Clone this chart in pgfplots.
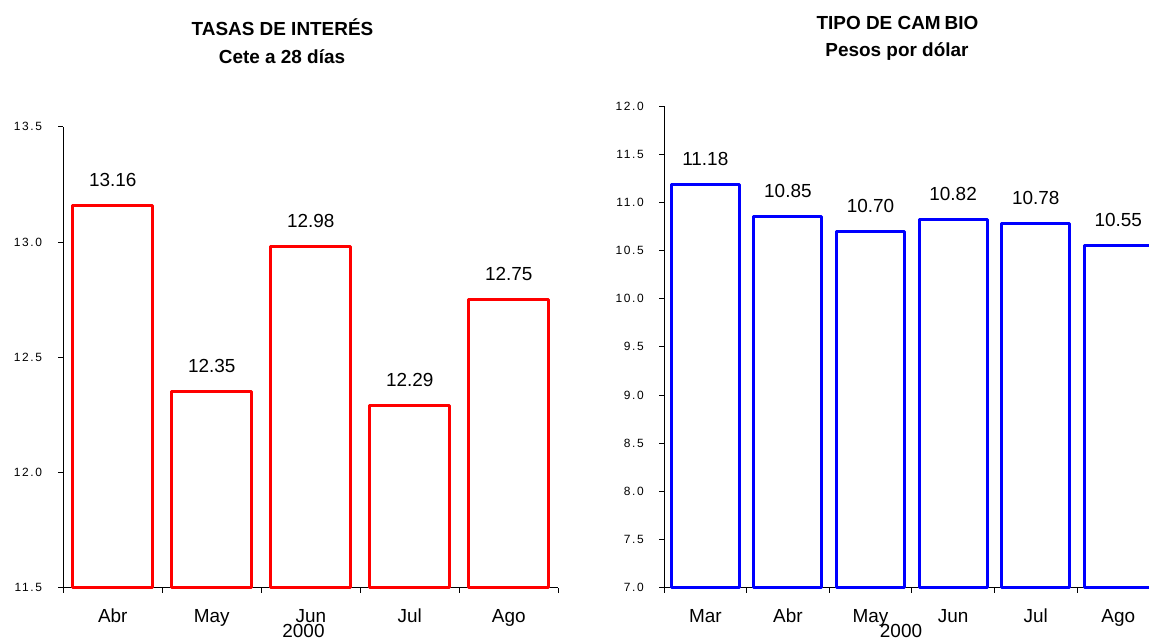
\documentclass[border=0pt]{standalone}
\usepackage{fontspec}
\setmainfont{Liberation Sans}
\newfontfamily\tickfont[LetterSpace=14]{Liberation Sans}
\usepackage{pgfplots}
\usepackage{pgfplotstable}
\pgfplotsset{compat=1.18}

% Cete a 28 dias (%)
\pgfplotstableread{
mes v
Abr 13.16
May 12.35
Jun 12.98
Jul 12.29
Ago 12.75
}\tasas

% Pesos por dolar
\pgfplotstableread{
mes v
Mar 11.18
Abr 10.85
May 10.70
Jun 10.82
Jul 10.78
Ago 10.55
}\cambio

\pgfplotsset{
  panel/.style={
    scale only axis,
    anchor=south west,
    clip=false,
    axis x line=bottom, axis y line=left,
    axis line style={-, line width=0.8bp, black},
    tick align=outside,
    major tick length=5bp,
    tick style={line width=0.8bp, black},
    ymin=0,
    xticklabels={},
    yticklabel style={font=\tickfont\fontsize{12}{12}\selectfont, inner sep=0pt},
    extra x tick style={major tick length=0bp,
      xticklabel style={font=\fontsize{19}{19}\selectfont, anchor=base, inner sep=0pt, yshift=-34.6bp}},
    ybar,
    point meta=explicit,
    nodes near coords={\pgfmathprintnumber[fixed,fixed zerofill,precision=2,assume math mode=true]{\pgfplotspointmeta}},
    every node near coord/.append style={font=\fontsize{19}{19}\selectfont, anchor=base, inner sep=0pt, yshift=19bp},
  },
  barra/.style={draw=#1, fill=none, line width=3bp, line join=round},
}

\begin{document}
\begin{tikzpicture}
\useasboundingbox (0,0) rectangle (1149bp,640bp);

% Tasas de interes
\begin{axis}[panel,
  at={(63.3bp,52.3bp)}, width=495bp, height=461bp,
  xmin=-0.5, xmax=4.5, ymax=2,
  bar width=80bp,
  xtick={-0.5,0.5,...,4.5},
  extra x ticks={0,1,2,3,4},
  extra x tick labels={Abr,May,Jun,Jul,Ago},
  ytick={0,0.5,1,1.5,2},
  yticklabels={11.5,12.0,12.5,13.0,13.5},
  yticklabel style={xshift=-16bp},
]
\addplot[barra=red] table[x expr=\coordindex, y expr=\thisrow{v}-11.5, meta=v] {\tasas};
\end{axis}

% Tipo de cambio
\begin{axis}[panel,
  at={(664bp,52.3bp)}, width=495.6bp, height=481.7bp,
  xmin=-0.5, xmax=5.5, ymax=5,
  bar width=68bp,
  xtick={-0.5,0.5,...,5.5},
  extra x ticks={0,1,2,3,4,5},
  extra x tick labels={Mar,Abr,May,Jun,Jul,Ago},
  ytick={0,0.5,...,5},
  yticklabels={7.0,7.5,8.0,8.5,9.0,9.5,10.0,10.5,11.0,11.5,12.0},
  yticklabel style={xshift=-15bp},
]
\addplot[barra=blue] table[x expr=\coordindex, y expr=\thisrow{v}-7, meta=v] {\cambio};
\end{axis}

% Titulos
\begin{scope}[every node/.style={anchor=base, inner sep=0pt, font=\bfseries\fontsize{19}{19}\selectfont}]
\node at (282.5bp,604bp) {TASAS DE INTERÉS};
\node at (282bp,576.7bp) {Cete a 28 días};
\node at (897.5bp,610.7bp) {TIPO DE CAM\hspace{4bp}BIO};
\node at (897bp,583.3bp) {Pesos por dólar};
\end{scope}

% Anio bajo el eje de categorias
\node[anchor=base, inner sep=0pt, font=\fontsize{19}{19}\selectfont] at (303.5bp,2.2bp) {2000};
\node[anchor=base, inner sep=0pt, font=\fontsize{19}{19}\selectfont] at (901bp,2.2bp) {2000};
\end{tikzpicture}
\end{document}
